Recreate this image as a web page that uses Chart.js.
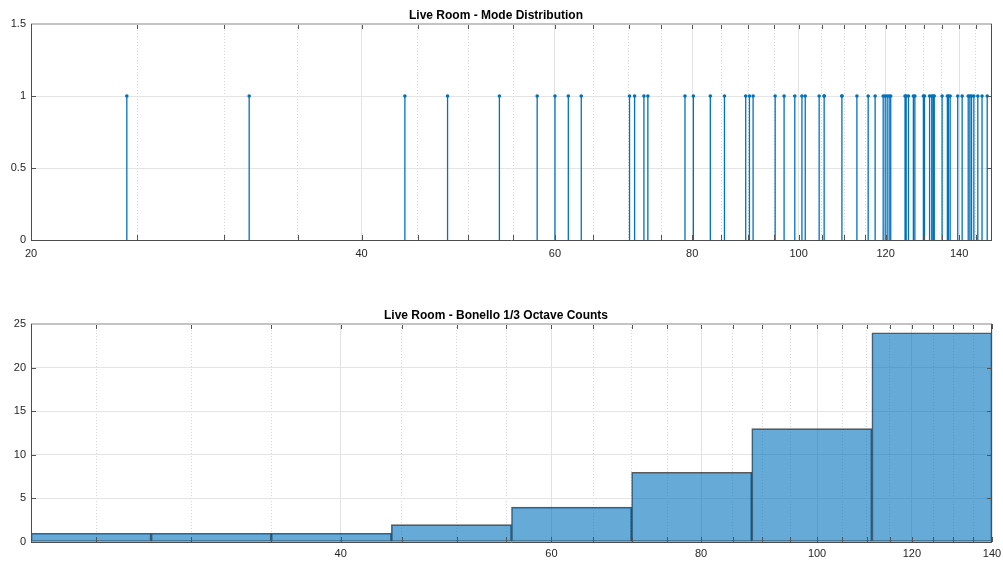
<!DOCTYPE html>
<html>
<head>
<meta charset="utf-8">
<title>Live Room modes</title>
<script src="https://cdn.jsdelivr.net/npm/chart.js@4"></script>
<style>
  body { margin: 0; background: #fff; width: 1003px; height: 563px; overflow: hidden; position: relative; }
  canvas { position: absolute; left: 0; }
  #modes { top: 0; }
  #bands { top: 280px; }
</style>
</head>
<body>
<canvas id="modes" width="1003" height="270"></canvas>
<canvas id="bands" width="1003" height="283"></canvas>
<script>
// --- data ---
// mode frequencies (Hz), one stem each (some overlap)
const modeFreqs = [24.45, 31.6, 43.8, 47.9, 53.4, 57.8, 60.0, 61.7, 63.4,
  70.15, 70.9, 72.3, 72.9, 78.8, 80.2, 83.1, 85.6,
  89.5, 90.2, 90.9, 95.2, 97.0, 99.2, 100.7, 101.4, 104.4, 105.5, 105.5, 109.5, 109.5,
  113.0, 115.7, 117.4, 119.4, 119.9, 120.4, 120.9, 121.3, 125.0, 125.3, 125.9,
  127.2, 127.6, 129.9, 130.2, 131.6, 132.2, 132.6, 132.9, 135.1, 136.6, 136.9, 137.4, 139.6,
  140.9, 142.7, 143.2, 143.7, 144.4, 145.6, 146.9, 148.5];
const modeXRange = [20, 150];
const modeYTicks = [0, 0.5, 1, 1.5];
const modeXTicks = [20, 25, 30, 35, 40, 45, 50, 55, 60, 65, 70, 75, 80, 85, 90, 95,
  100, 105, 110, 115, 120, 125, 130, 135, 140, 145];
const modeXLabels = [20, 40, 60, 80, 100, 120, 140];

// 1/3 octave bands
const bandNames = ['25', '31.5', '40', '50', '63', '80', '100', '125'];
const bandCounts = [1, 1, 1, 2, 4, 8, 13, 24];
const bandXRange = [22.05, 140];
const bandXTicks = [25, 30, 35, 40, 45, 50, 55, 60, 65, 70, 75, 80, 85, 90, 95,
  100, 105, 110, 115, 120, 125, 130, 135, 140];
const bandXLabels = [40, 60, 80, 100, 120, 140];
const bandYTicks = [0, 5, 10, 15, 20, 25];

const FONT = "'Liberation Sans', Arial, Helvetica, sans-serif";
const TXT = '#262626';
const BLUE = '#0072BD';

// frame + inward tick marks, matlab style
const framePlugin = {
  id: 'frame',
  afterDatasetsDraw(chart, args, opts) {
    const { ctx, chartArea: a } = chart;
    const xs = chart.scales[opts.xId];
    const ys = chart.scales.y;
    ctx.save();
    ctx.lineWidth = 1;
    ctx.strokeStyle = '#555';
    ctx.beginPath();
    xs.ticks.forEach(t => {
      const px = Math.round(xs.getPixelForValue(t.value)) + 0.5;
      ctx.moveTo(px, a.bottom); ctx.lineTo(px, a.bottom - 5);
      ctx.moveTo(px, a.top); ctx.lineTo(px, a.top + 5);
    });
    ys.ticks.forEach(t => {
      const py = Math.round(ys.getPixelForValue(t.value)) + 0.5;
      ctx.moveTo(a.left, py); ctx.lineTo(a.left + 5, py);
      ctx.moveTo(a.right, py); ctx.lineTo(a.right - 5, py);
    });
    ctx.stroke();
    // top edge lighter
    ctx.strokeStyle = '#c4c4c4';
    ctx.lineWidth = 2;
    ctx.beginPath();
    ctx.moveTo(a.left, a.top); ctx.lineTo(a.right, a.top);
    ctx.stroke();
    ctx.strokeStyle = '#4d4d4d';
    ctx.lineWidth = 1;
    ctx.beginPath();
    ctx.moveTo(a.left + 0.5, a.top); ctx.lineTo(a.left + 0.5, a.bottom + 0.5);
    ctx.lineTo(a.right - 0.5, a.bottom + 0.5); ctx.lineTo(a.right - 0.5, a.top);
    ctx.stroke();
    ctx.restore();
  }
};

function gridColor(labels) {
  return c => (c.tick && labels.includes(c.tick.value)) ? '#e2e2e2' : '#d6d6d6';
}
function gridDash(labels) {
  return c => (c.tick && !labels.includes(c.tick.value)) ? [1, 2] : [];
}
// fixed axis height, no extra side padding for end labels
function fitX(h) {
  return s => { s.height = h; s.paddingLeft = 0; s.paddingRight = 0; };
}

function titleOpts(text, top, bottom) {
  return {
    display: true, text, color: '#000',
    font: { family: FONT, size: 12, weight: 'bold' },
    padding: { top, bottom }
  };
}

// --- top: stem plot ---
const stemPts = [];
modeFreqs.forEach(f => {
  stemPts.push({ x: f, y: 0 }, { x: f, y: 1 }, { x: f, y: null });
});

new Chart(document.getElementById('modes'), {
  type: 'scatter',
  data: {
    datasets: [{
      data: stemPts,
      showLine: true,
      spanGaps: false,
      borderColor: BLUE,
      borderWidth: 1.3,
      pointRadius: 0
    }, {
      data: modeFreqs.map(f => ({ x: f, y: 1 })),
      pointRadius: 1.8,
      pointBackgroundColor: BLUE,
      pointBorderColor: BLUE,
      pointBorderWidth: 0
    }]
  },
  options: {
    responsive: false,
    animation: false,
    devicePixelRatio: 1,
    layout: { padding: { left: 0, right: 11, top: 0, bottom: 0 } },
    plugins: {
      legend: { display: false },
      tooltip: { enabled: false },
      title: titleOpts('Live Room - Mode Distribution', 8, 1.6),
      frame: { xId: 'x' }
    },
    scales: {
      x: {
        type: 'logarithmic',
        min: modeXRange[0], max: modeXRange[1],
        afterBuildTicks: s => { s.ticks = modeXTicks.map(v => ({ value: v })); },
        afterFit: fitX(30),
        ticks: {
          autoSkip: false, maxRotation: 0, padding: 7, color: TXT,
          font: { family: FONT, size: 11 },
          callback: v => modeXLabels.includes(v) ? String(v) : ''
        },
        grid: { drawTicks: false, color: gridColor(modeXLabels) },
        border: { display: false, dash: gridDash(modeXLabels) }
      },
      y: {
        min: 0, max: 1.5,
        afterBuildTicks: s => { s.ticks = modeYTicks.map(v => ({ value: v })); },
        afterFit: s => { s.width = 31; },
        ticks: { padding: 5, color: TXT, font: { family: FONT, size: 11 }, callback: v => String(v) },
        grid: { drawTicks: false, color: '#e4e4e4' },
        border: { display: false }
      }
    }
  },
  plugins: [framePlugin]
});

// --- bottom: 1/3 octave histogram ---
new Chart(document.getElementById('bands'), {
  type: 'bar',
  data: {
    labels: bandNames,
    datasets: [{
      data: bandCounts,
      xAxisID: 'x',
      backgroundColor: 'rgba(0, 114, 189, 0.6)',
      borderColor: 'rgba(20, 20, 20, 0.7)',
      borderWidth: 1,
      borderSkipped: false,
      categoryPercentage: 1,
      barPercentage: 1
    }]
  },
  options: {
    responsive: false,
    animation: false,
    devicePixelRatio: 1,
    layout: { padding: { left: 0, right: 11, top: 0, bottom: 0 } },
    plugins: {
      legend: { display: false },
      tooltip: { enabled: false },
      title: titleOpts('Live Room - Bonello 1/3 Octave Counts', 28.8, 0.8),
      frame: { xId: 'xf' }
    },
    scales: {
      x: { type: 'category', display: false, offset: true, grid: { display: false } },
      xf: {
        type: 'logarithmic',
        position: 'bottom',
        offset: false,
        min: bandXRange[0], max: bandXRange[1],
        afterBuildTicks: s => { s.ticks = bandXTicks.map(v => ({ value: v })); },
        afterFit: fitX(21),
        ticks: {
          autoSkip: false, maxRotation: 0, padding: 5, color: TXT,
          font: { family: FONT, size: 11 },
          callback: v => bandXLabels.includes(v) ? String(v) : ''
        },
        grid: { drawTicks: false, offset: false, color: gridColor(bandXLabels) },
        border: { display: false, dash: gridDash(bandXLabels) }
      },
      y: {
        min: 0, max: 25,
        afterBuildTicks: s => { s.ticks = bandYTicks.map(v => ({ value: v })); },
        afterFit: s => { s.width = 31; },
        ticks: { padding: 5, color: TXT, font: { family: FONT, size: 11 } },
        grid: { drawTicks: false, color: '#e4e4e4' },
        border: { display: false }
      }
    }
  },
  plugins: [framePlugin]
});
</script>
</body>
</html>
